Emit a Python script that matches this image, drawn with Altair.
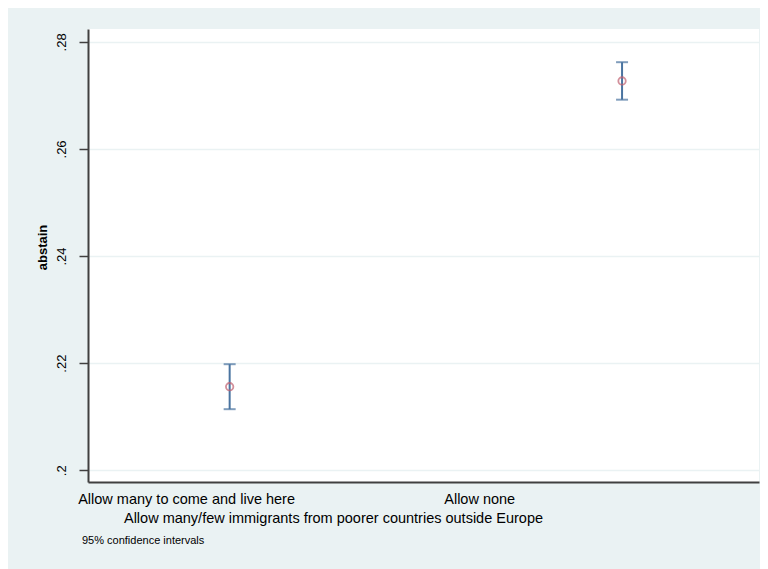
import altair as alt
import pandas as pd

categories = ["Allow many to come and live here", "Allow none"]
codes = [1, 2]
means = [0.2156, 0.2727]
lower = [0.2114, 0.2692]
upper = [0.2198, 0.2762]
y_ticks = [0.2, 0.22, 0.24, 0.26, 0.28]
x_label_pos = [0.889, 1.636]

df = pd.DataFrame({"code": codes, "cat": categories, "mean": means, "lo": lower, "hi": upper})

FONT = "Liberation Sans"
AXIS_COL = "#404040"
BG = "#eaf2f3"
CI_COL = "#4a74a0"
PT_COL = "#c06070"

xscale = alt.Scale(domain=[0.639, 2.349], nice=False, zero=False)
yscale = alt.Scale(domain=[0.1978, 0.2824], nice=False, zero=False)

mid = (x_label_pos[0] + x_label_pos[1]) / 2
x_label_expr = f"datum.value < {mid} ? '{categories[0]}' : '{categories[1]}'"

xaxis = alt.Axis(
    values=x_label_pos, labelExpr=x_label_expr, ticks=False, grid=False,
    domainColor=AXIS_COL, domainWidth=2, labelFont=FONT, labelFontSize=14.5,
    labelColor="black", labelPadding=10, labelBaseline="top", labelOverlap=False,
    labelFlush=False, labelAlign="center", labelLimit=0,
    title="Allow many/few immigrants from poorer countries outside Europe",
    titleFont=FONT, titleFontSize=14.5, titleFontWeight="normal", titleColor="black",
    titleX=245, titleY=36, titleAlign="center", titleBaseline="middle",
)
yaxis = alt.Axis(
    values=y_ticks, labelExpr="replace(format(datum.value, '.2~f'), '0.', '.')",
    labelAngle=270, labelAlign="center", labelBaseline="bottom",
    tickSize=9, tickColor=AXIS_COL, tickWidth=1.5, labelPadding=11,
    grid=True, gridColor=BG, gridWidth=1.5,
    domainColor=AXIS_COL, domainWidth=2, labelFont=FONT, labelFontSize=13,
    labelColor="black",
    title="abstain", titleFont=FONT, titleFontSize=13, titleFontWeight="bold",
    titleColor="black", titleAngle=270, titleX=-46, titleY=218,
    titleAlign="center", titleBaseline="middle",
)

base = alt.Chart(df).encode(x=alt.X("code:Q", scale=xscale, axis=xaxis))

rule = base.mark_rule(color=CI_COL, strokeWidth=2).encode(
    y=alt.Y("lo:Q", scale=yscale, axis=yaxis, title="abstain"),
    y2="hi:Q",
)
cap_lo = base.mark_tick(orient="horizontal", size=12, thickness=2, color=CI_COL).encode(
    y=alt.Y("lo:Q", scale=yscale, axis=yaxis, title="abstain")
)
cap_hi = base.mark_tick(orient="horizontal", size=12, thickness=2, color=CI_COL).encode(
    y=alt.Y("hi:Q", scale=yscale, axis=yaxis, title="abstain")
)
pts = base.mark_point(shape="circle", size=55, filled=False, strokeWidth=1.8, color=PT_COL).encode(
    y=alt.Y("mean:Q", scale=yscale, axis=yaxis, title="abstain")
)

chart = (
    alt.layer(rule, cap_lo, cap_hi, pts)
    .properties(
        width=671, height=453,
        autosize=alt.AutoSizeParams(type="none"),
        padding={"left": 80, "top": 21, "right": 1, "bottom": 87},
        background=BG,
        title=alt.TitleParams(
            "95% confidence intervals", orient="bottom", anchor="start",
            font=FONT, fontSize=11, fontWeight="normal", color="black",
            dx=46, offset=10,
        ),
    )
    .configure_view(stroke=None, fill="white")
)

chart.save("out.html", embed_options={"renderer": "svg", "actions": False})
